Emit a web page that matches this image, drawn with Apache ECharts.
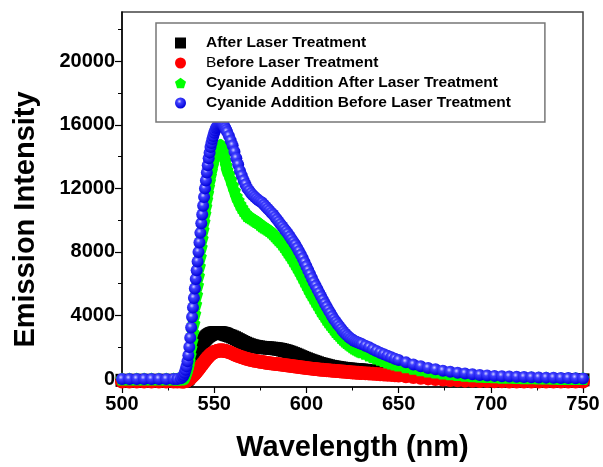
<!DOCTYPE html>
<html>
<head>
<meta charset="utf-8">
<script src="https://cdn.jsdelivr.net/npm/echarts@6/dist/echarts.min.js"></script>
<style>
html,body{margin:0;padding:0;background:#fff;}
#chart{width:603px;height:467px;}
</style>
</head>
<body>
<div id="chart"></div>
<script>
const wavelengths = [500,504,508,512,516,520,524,528,530,532,
533,533.5,534,534.5,535,535.5,536,536.5,537,537.5,538,538.5,539,539.5,540,540.5,541,541.5,542,542.5,543,543.5,544,544.5,545,545.5,546,546.5,547,547.5,548,548.5,549,549.5,550,550.5,551,551.5,552,552.5,553,553.5,554,554.5,555,555.5,556,556.5,557,
558,559,560,561,562,563,564,565,566,567,568,569,570,571,572,573,574,575,576,577,578,579,580,581,582,583,584,585,586,587,588,589,590,591,592,593,594,595,596,597,598,599,600,601,602,603,604,605,606,607,608,609,610,611,612,613,614,615,616,617,618,619,620,621,622,623,624,625,626,627,628,629,630,
632,634,636,638,640,642,644,646,648,650,
654,658,662,666,670,674,678,682,686,690,694,698,702,706,710,714,718,722,726,730,734,738,742,746,750];

const afterLaser = [-80,-80,-80,-80,-80,-80,-80,-80,-80,-80,
-80,-80,-70,-60,-40,0,60,150,260,400,560,740,920,1100,1280,1450,1610,1760,1900,2030,2150,2260,2360,2450,2530,2600,2660,2710,2750,2790,2820,2850,2870,2890,2900,2910,2920,2920,2920,2920,2910,2900,2890,2880,2870,2850,2830,2810,2780,
2740,2700,2650,2600,2540,2480,2420,2360,2300,2250,2200,2160,2120,2090,2060,2040,2020,2000,1990,1980,1970,1960,1950,1940,1930,1915,1900,1880,1860,1830,1800,1770,1730,1690,1650,1600,1560,1510,1460,1410,1360,1310,1270,1220,1180,1140,1100,1060,1020,980,950,920,890,860,830,800,780,760,740,720,700,685,670,655,640,630,620,610,600,590,580,572,565,
550,535,520,505,490,470,450,430,410,390,
340,290,240,200,160,130,100,80,60,40,30,20,10,0,0,-10,-20,-30,-40,-50,-50,-50,-50,-50,-50];

const beforeLaser = [-150,-150,-150,-150,-150,-150,-150,-150,-150,-150,
-150,-150,-140,-130,-110,-80,-40,0,50,100,150,210,270,330,400,470,550,620,700,780,850,920,1000,1080,1150,1230,1300,1370,1430,1490,1550,1590,1630,1670,1700,1720,1740,1760,1780,1790,1800,1800,1800,1795,1790,1780,1770,1750,1730,
1700,1650,1600,1550,1500,1450,1410,1370,1330,1290,1260,1230,1200,1175,1150,1130,1110,1090,1070,1050,1030,1015,1000,985,970,955,940,925,910,895,880,865,850,835,820,805,790,775,760,745,730,715,700,685,670,655,640,625,610,600,590,580,570,560,550,540,530,520,510,500,490,480,470,460,450,440,430,420,410,402,395,388,380,
365,350,335,320,305,290,275,260,240,220,
180,130,80,40,0,-30,-60,-80,-100,-110,-120,-130,-140,-140,-150,-150,-150,-150,-150,-150,-150,-150,-150,-150,-150];

const cyanideAfter = [0,0,0,0,0,0,0,0,0,0,
50,90,150,260,400,580,800,1120,1500,1950,2400,2950,3500,4100,4700,5300,5900,6500,7100,7700,8300,8850,9400,9900,10400,10850,11300,11700,12100,12450,12800,13100,13400,13650,13900,14100,14300,14450,14600,14650,14700,14720,14700,14550,14300,14000,13750,13450,13150,
12900,12550,12200,11850,11500,11250,11000,10800,10600,10450,10300,10220,10150,10070,10000,9920,9850,9750,9650,9570,9500,9420,9350,9250,9150,9020,8900,8770,8650,8500,8350,8170,8000,7820,7650,7450,7250,7050,6850,6620,6400,6170,5950,5720,5500,5300,5100,4900,4700,4500,4300,4120,3950,3770,3600,3450,3300,3150,3000,2870,2750,2620,2500,2400,2300,2210,2120,2040,1960,1890,1830,1770,1720,
1620,1520,1420,1330,1240,1160,1080,1010,950,890,
780,680,590,510,440,380,330,280,240,210,180,160,140,120,110,100,90,80,70,60,50,40,40,30,30];

const cyanideBefore = [0,0,0,0,0,0,0,0,0,50,
150,260,400,580,800,1120,1500,2020,2600,3250,3900,4500,5100,5700,6300,6850,7400,8000,8600,9200,9800,10350,10900,11450,12000,12500,13000,13450,13900,14250,14600,14850,15100,15300,15500,15650,15800,15880,15950,16000,16050,16070,16080,16050,16000,15900,15800,15680,15550,
15300,15000,14700,14300,13900,13500,13100,12800,12500,12250,12000,11850,11700,11570,11450,11350,11250,11170,11100,10970,10850,10720,10600,10470,10350,10200,10050,9900,9750,9600,9450,9300,9150,8970,8800,8620,8450,8250,8050,7820,7600,7350,7100,6850,6600,6350,6100,5870,5650,5420,5200,4970,4750,4550,4350,4150,3950,3770,3600,3450,3300,3150,3000,2870,2750,2650,2550,2470,2400,2350,2300,2250,2200,
2100,2000,1880,1770,1660,1560,1460,1370,1280,1200,
1050,920,800,700,610,530,460,400,350,300,260,230,200,180,160,140,125,110,100,90,80,70,60,50,40];

const yLabelTicks = [0,4000,8000,12000,16000,20000];
const yMinorTicks = [2000,6000,10000,14000,18000,22000];
const seriesNames = ['After Laser Treatment','Before Laser Treatment','Cyanide Addition After Laser Treatment','Cyanide Addition Before Laser Treatment'];

const FONT = 'Liberation Sans';
const pentagon = 'path://M0,-10L9.51,-3.09L5.88,8.09L-5.88,8.09L-9.51,-3.09Z';

function pairs(ys){ return wavelengths.map((x,i)=>[x, ys[i]]); }

const lensOk = [afterLaser,beforeLaser,cyanideAfter,cyanideBefore].every(a=>a.length===wavelengths.length);

const chart = echarts.init(document.getElementById('chart'), null, {renderer:'canvas'});
const blueGrad = new echarts.graphic.RadialGradient(0.4,0.35,0.65,[
  {offset:0,color:'#d0d0ff'},{offset:0.3,color:'#4040ff'},{offset:1,color:'#0000d8'}]);

const option = {
  animation:false,
  backgroundColor:'#fff',
  title:{show:!lensOk,text:'LEN MISMATCH',left:'center',top:'middle'},
  grid:{left:122,right:20,top:12,bottom:80,show:true,borderColor:'#444',borderWidth:1.5,backgroundColor:'transparent'},
  legend:{
    orient:'vertical', left:156, top:23,
    padding:[12,34,11,19], itemGap:4, itemWidth:11, itemHeight:11,
    borderColor:'#777', borderWidth:1.5, backgroundColor:'#fff',
    formatter:function(name){
      if(name === seriesNames[1]) return '{s|}{n|B}{b|efore Laser Treatment}';
      return '{s|}{b|' + name + '}';
    },
    textStyle:{fontSize:15.5,fontWeight:'bold',color:'#000',fontFamily:FONT,
      rich:{
        s:{width:15,lineHeight:14},
        b:{fontSize:15.5,fontWeight:'bold',color:'#000',fontFamily:FONT,lineHeight:14},
        n:{fontSize:15.5,fontWeight:'normal',color:'#000',fontFamily:FONT,lineHeight:14}
      }},
    data:[
      {name:seriesNames[0],icon:'rect'},
      {name:seriesNames[1],icon:'circle'},
      {name:seriesNames[2],icon:pentagon},
      {name:seriesNames[3],icon:'circle'}
    ]
  },
  xAxis:{
    type:'value',min:500,max:750,interval:50,
    axisLine:{show:true,onZero:false,lineStyle:{color:'#000',width:1.5}},
    axisTick:{show:true,length:6,lineStyle:{color:'#000',width:1.2}},
    minorTick:{show:true,splitNumber:2,length:3.5,lineStyle:{color:'#000',width:1}},
    splitLine:{show:false},
    axisLabel:{fontSize:20,fontWeight:'bold',color:'#000',fontFamily:FONT,margin:7},
    name:'Wavelength (nm)',nameLocation:'middle',nameGap:46,
    nameTextStyle:{fontSize:29,fontWeight:'bold',color:'#000',fontFamily:FONT}
  },
  yAxis:[{
    type:'value',min:-500,max:23100,
    axisLine:{show:true,onZero:false,lineStyle:{color:'#000',width:1.5}},
    axisTick:{show:true,length:7,customValues:yLabelTicks,lineStyle:{color:'#000',width:1.2}},
    axisLabel:{customValues:yLabelTicks,formatter:function(v){return String(v);},fontSize:20,fontWeight:'bold',color:'#000',fontFamily:FONT,margin:7},
    splitLine:{show:false},
    name:'Emission Intensity',nameLocation:'middle',nameGap:82,
    nameTextStyle:{fontSize:29,fontWeight:'bold',color:'#000',fontFamily:FONT,padding:[0,40,0,0]}
  },{
    type:'value',min:-500,max:23100,position:'left',
    axisLine:{show:false},
    axisTick:{show:true,length:4,customValues:yMinorTicks,lineStyle:{color:'#000',width:1}},
    axisLabel:{show:false},
    splitLine:{show:false}
  }],
  series:[
    {name:seriesNames[0],type:'scatter',symbol:'rect',symbolSize:13,data:pairs(afterLaser),itemStyle:{color:'#000',opacity:1}},
    {name:seriesNames[1],type:'scatter',symbol:'circle',symbolSize:14,data:pairs(beforeLaser),itemStyle:{color:'#ff0000',opacity:1}},
    {name:seriesNames[2],type:'scatter',symbol:pentagon,symbolSize:13,data:pairs(cyanideAfter),itemStyle:{color:'#00ff00',opacity:1}},
    {name:seriesNames[3],type:'scatter',symbol:'circle',symbolSize:12,data:pairs(cyanideBefore),itemStyle:{color:blueGrad,opacity:1}}
  ]
};
chart.setOption(option);
</script>
</body>
</html>
